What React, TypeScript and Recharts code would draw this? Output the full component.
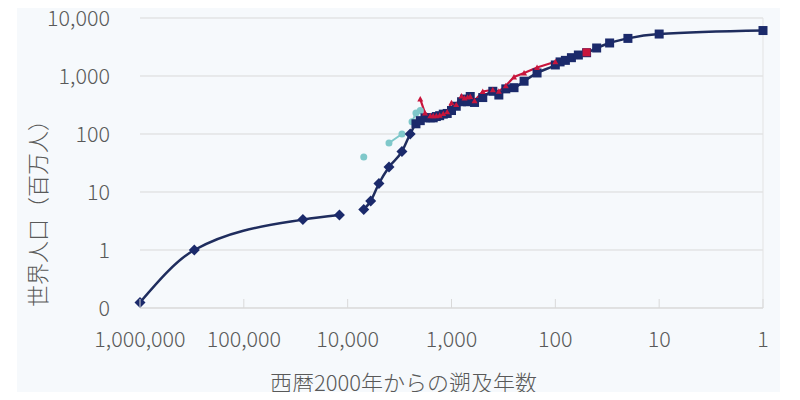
import React from 'react';
import {
  LineChart,
  Line,
  XAxis,
  YAxis,
  CartesianGrid,
  ReferenceLine,
} from 'recharts';

// years before 2000 (x) and world population in millions (y)
const lowerYears = [
  1000000, 300000, 27000, 12000, 9000, 7000, 6000, 5000, 4000, 3000, 2500,
  2200, 1999, 1800, 1600, 1500, 1400, 1300, 1200, 1100, 1000, 900, 800, 750,
  700, 660, 600, 500, 400, 350, 300, 250, 200, 150, 100, 90, 80, 70, 60, 50,
  40, 30, 20, 10, 1,
];
const lowerPop = [
  0.125, 1, 3.34, 4, null, 5, 7, 14, 27, 50, 100,
  150, 170, 190, 190, 190, 200, 207, 220, 226, 254, 301, 360, 400,
  360, 443, 350, 425, 545, 470, 600, 629, 813, 1128, 1550, 1750, 1860, 2070, 2300, 2520,
  3040, 3710, 4450, 5290, 6080,
];

const upperYears = [
  1999, 1800, 1600, 1500, 1400, 1300, 1200, 1100, 1000, 900, 800, 750, 700,
  660, 600, 500, 400, 350, 300, 250, 200, 150, 100,
];
const upperPop = [
  400, 230, 206, 206, 206, 210, 224, 240, 345, 320, 450, 416, 432,
  443, 374, 540, 579, 545, 679, 961, 1125, 1402, 1762,
];

const upper1950Years = [50];
const upper1950Pop = [2560];

const otherYears = [7000, 5000, 4000, 3000, 2700, 2400, 2200, 1999];
const otherPop = [40, null, 70, 100, null, 162, 231, 255];

const xTicks = [1000000, 100000, 10000, 1000, 100, 10, 1];
const yTicks = [0.1, 1, 10, 100, 1000, 10000];

const toRows = (years: number[], pop: (number | null)[]) =>
  years.map((yrs, i) => ({ yrs, pop: pop[i] }));

const lowerData = toRows(lowerYears, lowerPop);
const upperData = toRows(upperYears, upperPop);
const upper1950Data = toRows(upper1950Years, upper1950Pop);
const otherData = toRows(otherYears, otherPop);

const NAVY = '#1b2a6b';
const NAVY_LINE = '#1f2d5e';
const RED = '#c8153c';
const TEAL = '#7fc8ca';
const TEXT = '#595959';
const GRID = '#d9d9d9';
const FONT = '"Noto Sans CJK JP", "Noto Sans", sans-serif';

const fmt = (v: number) => Math.round(v).toLocaleString('en-US');

const navyDot = (p: any) => {
  const { cx, cy, payload, index } = p;
  if (cx == null || cy == null || payload.pop == null) return <g key={index} />;
  if (payload.yrs >= 2500) {
    const r = 5.5;
    return (
      <path
        key={index}
        d={`M${cx},${cy - r}L${cx + r},${cy}L${cx},${cy + r}L${cx - r},${cy}Z`}
        fill={NAVY}
      />
    );
  }
  return <rect key={index} x={cx - 4.5} y={cy - 4.5} width={9} height={9} fill={NAVY} />;
};

const redDot = (p: any) => {
  const { cx, cy, payload, index } = p;
  if (cx == null || cy == null || payload.pop == null) return <g key={index} />;
  const r = 3;
  return (
    <path
      key={index}
      d={`M${cx},${cy - r}L${cx + r},${cy + r * 0.8}L${cx - r},${cy + r * 0.8}Z`}
      fill={RED}
    />
  );
};

const redSquare = (p: any) => {
  const { cx, cy, index } = p;
  if (cx == null || cy == null) return <g key={index} />;
  return <rect key={index} x={cx - 4} y={cy - 4} width={8} height={8} fill={RED} />;
};

const tealDot = (p: any) => {
  const { cx, cy, payload, index } = p;
  if (cx == null || cy == null || payload.pop == null) return <g key={index} />;
  return <circle key={index} cx={cx} cy={cy} r={3.5} fill={TEAL} />;
};

const XTick = ({ x, y, payload }: any) => (
  <g>
    <line x1={x} x2={x} y1={y - 9} y2={y} stroke={GRID} />
    <text
      x={x}
      y={y + 29}
      textAnchor="middle"
      dominantBaseline="central"
      fill={TEXT}
      fontSize={21.5}
      fontWeight={300}
      fontFamily={FONT}
    >
      {fmt(payload.value)}
    </text>
  </g>
);

export default function App() {
  return (
    <div
      style={{
        margin: -8,
        width: 800,
        height: 400,
        position: 'relative',
        background: '#ffffff',
        fontFamily: FONT,
      }}
    >
      <div
        style={{
          position: 'absolute',
          left: 17,
          top: 0,
          width: 763,
          height: 400,
          background: '#f6f9fc',
        }}
      />
      <div style={{ position: 'absolute', left: 0, top: 0 }}>
        <LineChart
          width={800}
          height={400}
          margin={{ top: 18, right: 37, left: 20, bottom: 0 }}
        >
          <CartesianGrid vertical={false} stroke={GRID} />
          <XAxis
            type="number"
            dataKey="yrs"
            scale="log"
            domain={[1, 1000000]}
            reversed
            ticks={xTicks}
            interval={0}
            height={92}
            axisLine={{ stroke: GRID }}
            tickLine={false}
            tickSize={0}
            tickMargin={0}
            tick={<XTick />}
            label={{
              content: ({ viewBox }: any) => (
                <text
                  x={viewBox.x + viewBox.width / 2 - 48}
                  y={viewBox.y + 73}
                  textAnchor="middle"
                  dominantBaseline="central"
                  fill={TEXT}
                  fontSize={22}
                  fontWeight={300}
                  fontFamily={FONT}
                >
                  西暦2000年からの遡及年数
                </text>
              ),
            }}
          />
          <YAxis
            type="number"
            scale="log"
            domain={[0.1, 10000]}
            ticks={yTicks}
            interval={0}
            width={120}
            axisLine={false}
            tickLine={false}
            tickSize={0}
            tickMargin={30}
            tickFormatter={fmt}
            tick={{ fill: TEXT, fontSize: 21.5, fontWeight: 300, fontFamily: FONT }}
            label={{
              content: ({ viewBox }: any) => {
                const cx = viewBox.x + 16;
                const cy = viewBox.y + viewBox.height / 2 + 45;
                return (
                  <text
                    x={cx}
                    y={cy}
                    transform={`rotate(-90, ${cx}, ${cy})`}
                    textAnchor="middle"
                    dominantBaseline="central"
                    fill={TEXT}
                    fontSize={22}
                    fontWeight={300}
                    fontFamily={FONT}
                  >
                    世界人口（百万人）
                  </text>
                );
              },
            }}
          />
          <ReferenceLine x={1} stroke="#e3e3e3" />
          <Line
            data={otherData}
            dataKey="pop"
            type="linear"
            stroke={TEAL}
            strokeWidth={2}
            dot={tealDot}
            activeDot={false}
            connectNulls={false}
            isAnimationActive={false}
          />
          <Line
            data={lowerData}
            dataKey="pop"
            type="monotone"
            stroke={NAVY_LINE}
            strokeWidth={2.5}
            dot={navyDot}
            activeDot={false}
            connectNulls={false}
            isAnimationActive={false}
          />
          <Line
            data={upperData}
            dataKey="pop"
            type="linear"
            stroke={RED}
            strokeWidth={2.2}
            dot={redDot}
            activeDot={false}
            isAnimationActive={false}
          />
          <Line
            data={upper1950Data}
            dataKey="pop"
            stroke={RED}
            dot={redSquare}
            activeDot={false}
            isAnimationActive={false}
          />
        </LineChart>
      </div>
    </div>
  );
}
